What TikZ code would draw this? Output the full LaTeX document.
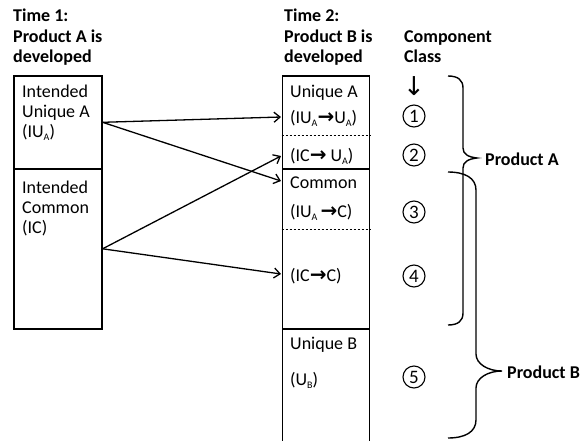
\documentclass[tikz,border=0pt]{standalone}
\usepackage{fontspec}
\setmainfont{Carlito}
\newfontfamily\arrowfont{DejaVu Sans}
\usetikzlibrary{arrows.meta}
\newcommand\sbs[1]{\raisebox{-0.4ex}{\fontsize{10}{10}\selectfont #1}}
\newcommand\rarr{{\arrowfont\bfseries\fontsize{20}{20}\selectfont →}}
\begin{document}
\begin{tikzpicture}[x=1pt,y=-1pt,
  txt/.style={inner sep=0pt, anchor=base west, font=\fontsize{18}{20}\selectfont},
  ttl/.style={txt, font=\fontsize{18}{20}\selectfont\bfseries},
  blk/.style={draw, line width=1.6pt, inner sep=0pt, anchor=north west},
  arr/.style={line width=1.3pt, -{Straight Barb[length=6pt,width=10pt,line width=1.3pt]}},
  dsh/.style={line width=0.8pt, dash pattern=on 2pt off 2pt},
  num/.style={draw, circle, line width=1.1pt, minimum size=22pt, inner sep=0pt, font=\fontsize{19}{20}\selectfont},
  brc/.style={line width=1.4pt}]
\useasboundingbox (0,0) rectangle (582,440);
% titles
\node[ttl] (t1a) at (13,21) {Time 1:};
\node[ttl] (t1b) at (13,42) {Product A is};
\node[ttl] (t1c) at (13,62) {developed};
\node[ttl] (t2a) at (284,21) {Time 2:};
\node[ttl] (t2b) at (284,42) {Product B is};
\node[ttl] (t2c) at (284,62) {developed};
\node[ttl] (cca) at (404,42) {Component};
\node[ttl] (ccb) at (404,62) {Class};
% left boxes
\node[blk, minimum width=88, minimum height=93] (iua) at (13,75) {};
\node[blk, minimum width=88, minimum height=160] (ic) at (13,168) {};
\node[txt] (l1) at (22,97) {Intended};
\node[txt] (l2) at (22,117) {Unique A};
\node[txt] (l3) at (22,137) {(IU\sbs{A})};
\node[txt] (l4) at (22,193) {Intended};
\node[txt] (l5) at (22,213) {Common};
\node[txt] (l6) at (22,233) {(IC)};
% right boxes
\node[blk, minimum width=87, minimum height=93] (ua) at (281.5,75) {};
\node[blk, minimum width=87, minimum height=160] (cm) at (281.5,168) {};
\node[blk, minimum width=87, minimum height=130] (ub) at (281.5,328) {};
\draw[dsh] (ua.west |- 0,135) coordinate (d1a) -- (ua.east |- 0,135) coordinate (d1b);
\draw[dsh] (cm.west |- 0,229) coordinate (d2a) -- (cm.east |- 0,229) coordinate (d2b);
\node[txt] (r1) at (290,97) {Unique A};
\node[txt] (r2) at (290,123) {(IU\sbs{A}\rarr U\sbs{A})};
\node[txt] (r3) at (290,161) {(IC\rarr\ U\sbs{A})};
\node[txt] (r4) at (290,188) {Common};
\node[txt] (r5) at (290,217) {(IU\sbs{A}\,\rarr C)};
\node[txt] (r6) at (290,281) {(IC\rarr C)};
\node[txt] (r7) at (290,349) {Unique B};
\node[txt] (r8) at (290,385) {(U\sbs{B})};
% arrow targets
\coordinate (e1) at (281,117);
\coordinate (e2) at (281,156);
\coordinate (e3) at (281,181);
\coordinate (e4) at (281,274);
\draw[arr] (iua.east) -- (e1);
\draw[arr] (iua.east) -- (e3);
\draw[arr] (ic.east) -- (e2);
\draw[arr] (ic.east) -- (e4);
% component class arrow
\node[inner sep=0pt, font=\arrowfont\fontsize{26}{26}\selectfont] (dn) at (414,86) {↓};
% circled numbers
\node[num] (n1) at (414,116) {1};
\node[num] (n2) at (414,155) {2};
\node[num] (n3) at (414,212) {3};
\node[num] (n4) at (414,276) {4};
\node[num] (n5) at (414,377) {5};
% braces
\draw[brc] (448,76) .. controls (458,76) and (463,80) .. (463,88) -- (463,148)
  .. controls (463,154) and (468,157) .. (477,158)
  .. controls (468,159) and (463,162) .. (463,168) -- (463,313)
  .. controls (463,321) and (458,325) .. (448,325);
\draw[brc] (448,172) .. controls (465,172) and (476,178) .. (476,190) -- (476,354)
  .. controls (476,364) and (488,371) .. (502,371)
  .. controls (488,371) and (476,378) .. (476,388) -- (476,420)
  .. controls (476,432) and (465,438) .. (448,438);
\node[ttl, anchor=west] (pa) at (485,159) {Product A};
\node[ttl, anchor=west] (pb) at (507,372) {Product B};
\end{tikzpicture}
\end{document}
